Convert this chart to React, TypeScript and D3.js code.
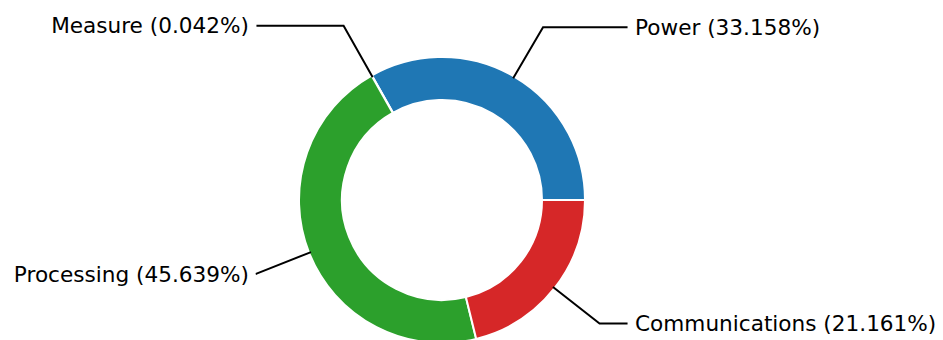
import React from "react";
import * as d3 from "d3";

const categories = ["Power", "Measure", "Processing", "Communications"];
const values = [33.158, 0.042, 45.639, 21.161];
const colors = ["#1f77b4", "#ff7f0e", "#2ca02c", "#d62728"];

const W = 943;
const H = 340;
const cx = 442;
const cy = 200;
const R = 143;
const r = 100;
const fontSize = 21.6;

export default function App() {
  const pie = d3
    .pie<number>()
    .sort(null)
    .startAngle(Math.PI / 2)
    .endAngle(Math.PI / 2 - 2 * Math.PI);
  const arcs = pie(values);
  const arc = d3.arc<d3.PieArcDatum<number>>().innerRadius(r).outerRadius(R);

  return (
    <svg
      width={W}
      height={H}
      style={{ display: "block", position: "absolute", left: 0, top: 0 }}
    >
      <g transform={`translate(${cx},${cy})`}>
        {arcs.map((a, i) => (
          <path
            key={categories[i]}
            d={arc(a) || ""}
            fill={colors[i]}
            stroke="#fff"
            strokeWidth={2}
            strokeLinejoin="round"
          />
        ))}
        {arcs.map((a, i) => {
          const theta = Math.PI / 2 - (a.startAngle + a.endAngle) / 2;
          const ux = Math.cos(theta);
          const uy = -Math.sin(theta);
          const px = R * ux;
          const py = R * uy;
          const side = ux >= 0 ? 1 : -1;
          const tx = side * 1.35 * R;
          const ty = 1.4 * R * uy;
          const t = (ty - py) / uy;
          const kx = px + t * ux;
          const lineEnd = tx - side * 7.5;
          const label = `${categories[i]} (${values[i].toFixed(3)}%)`;
          return (
            <g key={"l" + i}>
              <polyline
                points={`${lineEnd},${ty} ${kx},${ty} ${px - ux * 2},${py - uy * 2}`}
                fill="none"
                stroke="#000"
                strokeWidth={2}
              />
              <text
                x={tx}
                y={ty}
                dy="0.36em"
                textAnchor={side > 0 ? "start" : "end"}
                fontFamily="DejaVu Sans"
                fontSize={fontSize}
                fill="#000"
              >
                {label}
              </text>
            </g>
          );
        })}
      </g>
    </svg>
  );
}
